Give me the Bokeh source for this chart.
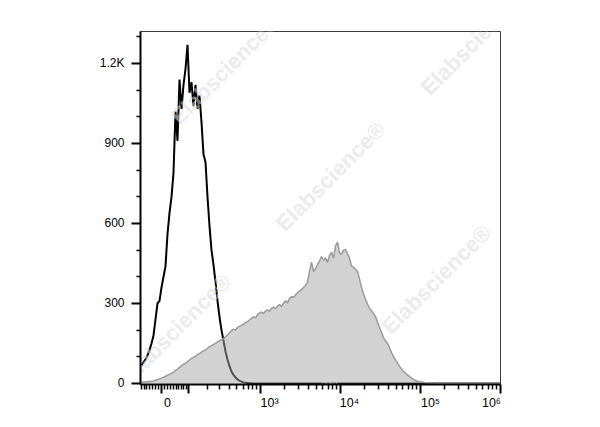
import numpy as np
from bokeh.plotting import figure
from bokeh.models import Range1d, FixedTicker, LinearAxis, Label, CustomJSTickFormatter
from bokeh.embed import file_html
from bokeh.resources import INLINE

# ---------------- data ----------------
# biexponential display scale: u = asinh(value / BIEX_C)
BIEX_C = 115.6
X_MIN, X_MAX = -74.0, 1.0e6
N_CHANNELS = 180

# histogram counts per display channel (left to right)
black_counts = [68, 79, 90, 105, 125, 150, 180, 240, 300, 310,
                360, 400, 440, 560, 640, 700, 790, 1020, 910, 1140,
                1030, 1120, 1180, 1270, 1090, 1130, 1040, 1120, 1030, 1080,
                980, 860, 830, 700, 590, 500, 445, 380, 310, 250,
                200, 160, 120, 90, 65, 45, 32, 22, 15, 10,
                7, 4, 3, 2, 1, 1]
grey_counts = [4, 5, 5, 6, 7, 8, 9, 12, 14, 17,
               20, 23, 27, 31, 34, 38, 42, 48, 54, 60,
               66, 72, 76, 82, 88, 94, 98, 102, 108, 112,
               118, 122, 126, 132, 138, 142, 146, 150, 156, 160,
               164, 168, 175, 182, 190, 198, 204, 200, 210, 214,
               218, 222, 228, 232, 238, 244, 250, 246, 258, 264,
               268, 262, 272, 276, 270, 282, 286, 280, 290, 296,
               288, 300, 310, 302, 318, 326, 322, 332, 340, 346,
               352, 360, 368, 380, 420, 455, 420, 430, 446, 460,
               476, 462, 470, 454, 480, 492, 470, 515, 530, 490,
               484, 500, 502, 486, 470, 440, 436, 428, 420, 392,
               360, 336, 315, 298, 282, 272, 262, 251, 230, 210,
               192, 172, 160, 150, 134, 116, 100, 88, 76, 64,
               54, 46, 38, 32, 26, 20, 15, 11, 8, 6,
               5, 4, 3, 3, 2, 2, 2, 1]

x_major_ticks = [0, 1e2, 1e3, 1e4, 1e5, 1e6]
x_label_values = [0, 1e3, 1e4, 1e5, 1e6]
x_label_texts = ["0", "10\u00b3", "10\u2074", "10\u2075", "10\u2076"]
x_label_shift_px = [6, 9, 9, 10, -9]

y_major_ticks = [0, 300, 600, 900, 1200]
y_minor_ticks = [100, 200, 400, 500, 700, 800, 1000, 1100, 1300]
y_label_overrides = {1200: "1.2K"}

watermark_text = "Elabscience\u00ae"
# watermark centres, screen px relative to the frame's bottom-left corner
watermark_xy = [(-20, 420), (85, 315), (190, 208), (296, 105), (401, 2),
                (-181, 252), (-73, 154), (36, 56), (144, -44),
                (335, 344), (443, 239)]


def biex(v):
    return np.arcsinh(np.asarray(v, dtype=float) / BIEX_C)


u_lo, u_hi = float(biex(X_MIN)), float(biex(X_MAX))
du = (u_hi - u_lo) / N_CHANNELS
channels = u_lo + (np.arange(N_CHANNELS) + 0.5) * du

black = np.zeros(N_CHANNELS)
black[:len(black_counts)] = black_counts
grey = np.zeros(N_CHANNELS)
grey[:len(grey_counts)] = grey_counts

# minor ticks of the biexponential axis
x_minor = []
for m in range(1, 10):
    x_minor += [-10 * m, 10 * m]
for d in (1e2, 1e3, 1e4, 1e5):
    x_minor += [d * m for m in range(2, 10)]
x_minor = [v for v in x_minor if X_MIN <= v <= X_MAX]

# ---------------- figure ----------------
p = figure(width=584, height=420,
           x_range=Range1d(u_lo, u_hi), y_range=Range1d(-4, 1320),
           output_backend="svg", toolbar_location=None,
           min_border_left=140, min_border_right=84,
           min_border_top=31, min_border_bottom=36)
p.xgrid.visible = False
p.ygrid.visible = False
p.outline_line_color = "#3a3a3a"
p.outline_line_width = 1
p.background_fill_color = "white"
p.border_fill_color = "white"

p.line(channels, black, line_color="black", line_width=2)
p.varea(x=channels, y1=0, y2=grey, fill_color="#a6a6a6", fill_alpha=0.5)
p.line(channels, grey, line_color="#9a9a9a", line_width=1.5)

# watermarks (over the data, faint)
for (wx, wy) in watermark_xy:
    p.add_layout(Label(x=wx, y=wy, x_units="screen", y_units="screen",
                       text=watermark_text, angle=np.pi / 4,
                       text_align="center", text_baseline="middle",
                       text_font="Liberation Sans", text_font_style="bold",
                       text_font_size="22px", text_color="#dadada",
                       text_alpha=0.55, level="glyph"))

# y axis
ya = p.yaxis[0]
ya.ticker = FixedTicker(ticks=y_major_ticks, minor_ticks=y_minor_ticks)
ya.major_label_overrides = y_label_overrides
ya.axis_line_color = "black"
ya.axis_line_width = 2
ya.major_tick_in = 0
ya.major_tick_out = 9
ya.major_tick_line_width = 2
ya.minor_tick_in = 0
ya.minor_tick_out = 4
ya.minor_tick_line_width = 1.5
ya.major_label_standoff = 7
ya.major_label_text_font = "Liberation Sans"
ya.major_label_text_font_size = "12px"
ya.major_label_text_color = "black"

# x axis: ticks only
xa = p.xaxis[0]
xa.ticker = FixedTicker(ticks=[float(t) for t in biex(x_major_ticks)],
                        minor_ticks=[float(t) for t in biex(x_minor)])
xa.formatter = CustomJSTickFormatter(code="return ''")
xa.axis_line_color = "black"
xa.axis_line_width = 2
xa.major_tick_in = 0
xa.major_tick_out = 9
xa.major_tick_line_width = 2
xa.minor_tick_in = 0
xa.minor_tick_out = 5
xa.minor_tick_line_width = 1.5
xa.major_label_standoff = 0
xa.major_label_text_font_size = "1px"

# x axis: labels (placed just right of their ticks, as in the source)
px_per_u = 360.0 / (u_hi - u_lo)
label_pos = [round(float(biex(v)) + s / px_per_u, 4)
             for v, s in zip(x_label_values, x_label_shift_px)]
lab_axis = LinearAxis(ticker=FixedTicker(ticks=label_pos, minor_ticks=[]),
                      major_label_overrides=dict(zip(label_pos, x_label_texts)))
lab_axis.axis_line_color = None
lab_axis.major_tick_line_color = None
lab_axis.minor_tick_line_color = None
lab_axis.major_tick_in = 0
lab_axis.major_tick_out = 0
lab_axis.major_label_standoff = 2
lab_axis.major_label_text_font = "Liberation Sans"
lab_axis.major_label_text_font_size = "12.5px"
lab_axis.major_label_text_color = "black"
p.add_layout(lab_axis, "below")

open("out.html", "w").write(file_html(p, INLINE))
